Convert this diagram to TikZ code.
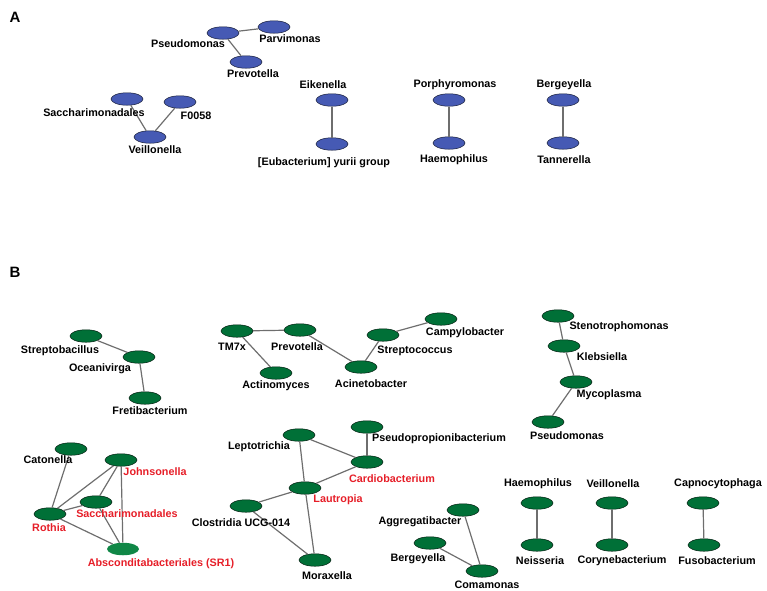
\documentclass[tikz,border=0pt]{standalone}
\usepackage{fontspec}
\setmainfont{Liberation Sans}
\usetikzlibrary{shapes.geometric}
\definecolor{nblue}{RGB}{70,90,180}
\definecolor{ngreen}{RGB}{0,112,55}
\definecolor{nlgreen}{RGB}{16,135,70}
\definecolor{nred}{RGB}{230,30,40}
\definecolor{edgegray}{RGB}{110,110,110}
\tikzset{
  bnode/.style={ellipse, draw=black!70!nblue, line width=0.5pt, fill=nblue, minimum width=32pt, minimum height=12.5pt, inner sep=0pt},
  gnode/.style={ellipse, draw=black!75!ngreen, line width=0.5pt, fill=ngreen, minimum width=32pt, minimum height=12.5pt, inner sep=0pt},
  lgnode/.style={ellipse, draw=none, fill=nlgreen, minimum width=32pt, minimum height=12.5pt, inner sep=0pt},
  lab/.style={font=\fontsize{10.8}{12}\selectfont\bfseries, text=black, inner sep=0pt},
  rlab/.style={lab, text=nred},
  panel/.style={font=\fontsize{15}{18}\selectfont\bfseries, inner sep=0pt},
  edge/.style={draw=edgegray, line width=1.2pt}
}
\begin{document}
\begin{tikzpicture}[x=1pt,y=-1pt]
\useasboundingbox (0,0) rectangle (767,590);
% Panel A
\node[panel] (pA) at (15,17) {A};
\node[bnode] (aPseu) at (223,33) {};
\node[bnode] (aParv) at (274,27) {};
\node[bnode] (aPrev) at (246,62) {};
\node[bnode] (aSacc) at (127,99) {};
\node[bnode] (aF005) at (180,102) {};
\node[bnode] (aVeil) at (150,137) {};
\node[bnode] (aEike) at (332,100) {};
\node[bnode] (aEuba) at (332,144) {};
\node[bnode] (aPorp) at (449,100) {};
\node[bnode] (aHaem) at (449,143) {};
\node[bnode] (aBerg) at (563,100) {};
\node[bnode] (aTann) at (563,143) {};
\draw[edge] (aPseu) -- (aParv);
\draw[edge] (aPseu) -- (aPrev);
\draw[edge] (aSacc) -- (aVeil);
\draw[edge] (aF005) -- (aVeil);
\draw[edge] (aEike) -- (aEuba);
\draw[edge] (aPorp) -- (aHaem);
\draw[edge] (aBerg) -- (aTann);
\node[lab] (laPseu) at (188,44) {Pseudomonas};
\node[lab] (laParv) at (290,39) {Parvimonas};
\node[lab] (laPrev) at (253,74) {Prevotella};
\node[lab] (laSacc) at (94,113) {Saccharimonadales};
\node[lab] (laF005) at (196,116) {F0058};
\node[lab] (laVeil) at (155,150) {Veillonella};
\node[lab] (laEike) at (323,85) {Eikenella};
\node[lab] (laEuba) at (324,163) {[Eubacterium] yurii group};
\node[lab] (laPorp) at (455,85) {Porphyromonas};
\node[lab] (laHaem) at (454,160) {Haemophilus};
\node[lab] (laBerg) at (564,85) {Bergeyella};
\node[lab] (laTann) at (564,160) {Tannerella};
% Panel B
\node[panel] (pB) at (15,272) {B};
\node[gnode] (bStrb) at (86,336) {};
\node[gnode] (bOcea) at (139,357) {};
\node[gnode] (bFret) at (145,398) {};
\node[gnode] (bTM7x) at (237,331) {};
\node[gnode] (bPrev) at (300,330) {};
\node[gnode] (bActi) at (276,373) {};
\node[gnode] (bAcin) at (361,367) {};
\node[gnode] (bStrc) at (383,335) {};
\node[gnode] (bCamp) at (441,319) {};
\node[gnode] (bSten) at (558,316) {};
\node[gnode] (bKleb) at (564,346) {};
\node[gnode] (bMyco) at (576,382) {};
\node[gnode] (bPseu) at (548,422) {};
\node[gnode] (bCato) at (71,449) {};
\node[gnode] (bJohn) at (121,460) {};
\node[gnode] (bSacc) at (96,502) {};
\node[gnode] (bRoth) at (50,514) {};
\node[lgnode] (bAbsc) at (123,549) {};
\node[gnode] (bLept) at (299,435) {};
\node[gnode] (bPsPr) at (367,427) {};
\node[gnode] (bCard) at (367,462) {};
\node[gnode] (bLaut) at (305,488) {};
\node[gnode] (bClos) at (246,506) {};
\node[gnode] (bMora) at (315,560) {};
\node[gnode] (bAggr) at (463,510) {};
\node[gnode] (bBerg) at (430,543) {};
\node[gnode] (bComa) at (482,571) {};
\node[gnode] (bHaem) at (537,503) {};
\node[gnode] (bNeis) at (537,545) {};
\node[gnode] (bVeil) at (612,503) {};
\node[gnode] (bCory) at (612,545) {};
\node[gnode] (bCapn) at (703,503) {};
\node[gnode] (bFuso) at (704,545) {};
\draw[edge] (bStrb) -- (bOcea);
\draw[edge] (bOcea) -- (bFret);
\draw[edge] (bTM7x) -- (bPrev);
\draw[edge] (bTM7x) -- (bActi);
\draw[edge] (bPrev) -- (bAcin);
\draw[edge] (bAcin) -- (bStrc);
\draw[edge] (bStrc) -- (bCamp);
\draw[edge] (bSten) -- (bKleb);
\draw[edge] (bKleb) -- (bMyco);
\draw[edge] (bMyco) -- (bPseu);
\draw[edge] (bCato) -- (bRoth);
\draw[edge] (bRoth) -- (bJohn);
\draw[edge] (bRoth) -- (bSacc);
\draw[edge] (bRoth) -- (bAbsc);
\draw[edge] (bJohn) -- (bSacc);
\draw[edge] (bJohn) -- (bAbsc);
\draw[edge] (bSacc) -- (bAbsc);
\draw[edge] (bLept) -- (bCard);
\draw[edge] (bLept) -- (bLaut);
\draw[edge] (bPsPr) -- (bCard);
\draw[edge] (bCard) -- (bLaut);
\draw[edge] (bLaut) -- (bClos);
\draw[edge] (bLaut) -- (bMora);
\draw[edge] (bClos) -- (bMora);
\draw[edge] (bAggr) -- (bComa);
\draw[edge] (bBerg) -- (bComa);
\draw[edge] (bHaem) -- (bNeis);
\draw[edge] (bVeil) -- (bCory);
\draw[edge] (bCapn) -- (bFuso);
\node[lab] (lbStrb) at (60,351) {Streptobacillus};
\node[lab] (lbOcea) at (100,369) {Oceanivirga};
\node[lab] (lbFret) at (150,411) {Fretibacterium};
\node[lab] (lbTM7x) at (232,347) {TM7x};
\node[lab] (lbPrev) at (297,347) {Prevotella};
\node[lab] (lbActi) at (276,386) {Actinomyces};
\node[lab] (lbAcin) at (371,384) {Acinetobacter};
\node[lab] (lbStrc) at (415,351) {Streptococcus};
\node[lab] (lbCamp) at (465,333) {Campylobacter};
\node[lab] (lbSten) at (619,327) {Stenotrophomonas};
\node[lab] (lbKleb) at (602,357) {Klebsiella};
\node[lab] (lbMyco) at (609,395) {Mycoplasma};
\node[lab] (lbPseu) at (567,436) {Pseudomonas};
\node[lab] (lbCato) at (48,460) {Catonella};
\node[rlab] (lbJohn) at (155,472) {Johnsonella};
\node[rlab] (lbSacc) at (127,514) {Saccharimonadales};
\node[rlab] (lbRoth) at (49,528) {Rothia};
\node[rlab] (lbAbsc) at (161,564) {Absconditabacteriales (SR1)};
\node[lab] (lbLept) at (259,447) {Leptotrichia};
\node[lab] (lbPsPr) at (439,439) {Pseudopropionibacterium};
\node[rlab] (lbCard) at (392,479) {Cardiobacterium};
\node[rlab] (lbLaut) at (338,500) {Lautropia};
\node[lab] (lbClos) at (241,523) {Clostridia UCG-014};
\node[lab] (lbMora) at (327,576) {Moraxella};
\node[lab] (lbAggr) at (420,522) {Aggregatibacter};
\node[lab] (lbBerg) at (418,559) {Bergeyella};
\node[lab] (lbComa) at (487,585) {Comamonas};
\node[lab] (lbHaem) at (538,484) {Haemophilus};
\node[lab] (lbNeis) at (540,561) {Neisseria};
\node[lab] (lbVeil) at (613,484) {Veillonella};
\node[lab] (lbCory) at (622,561) {Corynebacterium};
\node[lab] (lbCapn) at (718,484) {Capnocytophaga};
\node[lab] (lbFuso) at (717,561) {Fusobacterium};
\end{tikzpicture}
\end{document}
